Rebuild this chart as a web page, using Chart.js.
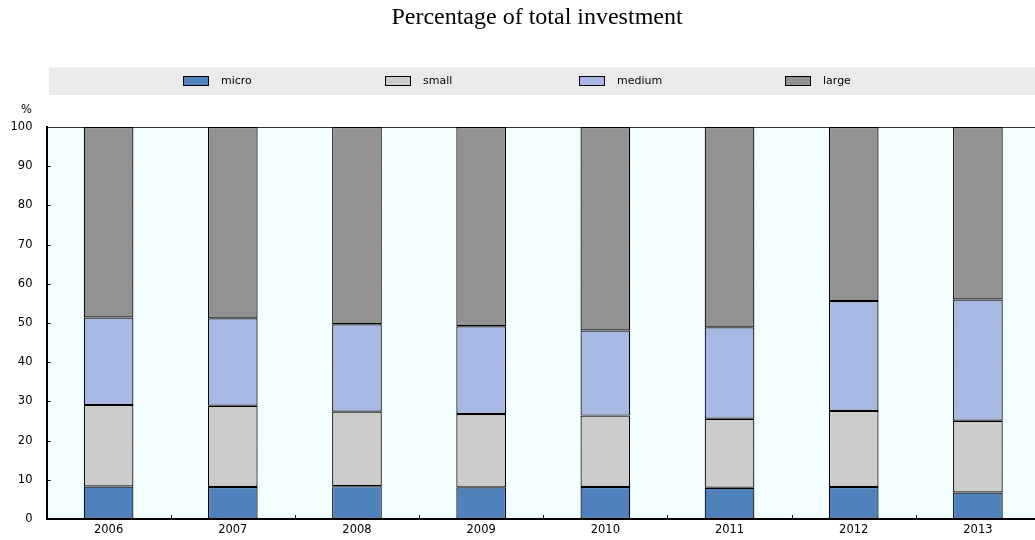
<!DOCTYPE html>
<html>
<head>
<meta charset="utf-8">
<script src="https://cdn.jsdelivr.net/npm/chart.js@4"></script>
<style>
  html, body { margin: 0; padding: 0; background: #fff; overflow: hidden; }
  #wrap { position: relative; width: 1042px; height: 540px; }
</style>
</head>
<body>
<div id="wrap"><canvas id="investChart"></canvas></div>
<script>
// years on the x axis
var years = ["2006", "2007", "2008", "2009", "2010", "2011", "2012", "2013"];

// share of total investment by firm size (%)
var micro  = [8.3, 8.2, 8.4, 8.1, 8.2, 8.0, 8.2, 6.8];
var small  = [20.8, 20.7, 19.0, 18.7, 18.2, 17.6, 19.4, 18.3];
var medium = [22.3, 22.3, 22.3, 22.4, 21.7, 23.3, 28.0, 30.9];
var large  = [48.6, 48.8, 50.3, 50.8, 51.9, 51.1, 44.4, 44.0];

var yTicks = [0, 10, 20, 30, 40, 50, 60, 70, 80, 90, 100];

var titleText = "Percentage of total investment";
var unitText = "%";

var tickFont = "DejaVu Sans";

// draws the plot background, title, legend band and the little tick marks
var decorPlugin = {
  id: "decor",
  beforeDraw: function (chart) {
    var ctx = chart.ctx;
    var a = chart.chartArea;
    ctx.save();
    ctx.fillStyle = "#F3FEFF";
    ctx.fillRect(a.left, a.top, a.right - a.left, a.bottom - a.top);
    ctx.restore();
  },
  afterDraw: function (chart) {
    var ctx = chart.ctx;
    var a = chart.chartArea;
    var xs = chart.scales.x;
    var ys = chart.scales.y;
    ctx.save();

    // title
    ctx.fillStyle = "#000";
    ctx.font = "24px 'Liberation Serif'";
    ctx.textAlign = "center";
    ctx.textBaseline = "alphabetic";
    ctx.fillText(titleText, 537, 24);

    // legend band
    ctx.fillStyle = "#EAEAEA";
    ctx.fillRect(49, 67.5, chart.width - 49, 27.5);
    var legendX = [183, 385, 579, 785];
    ctx.font = "11px '" + tickFont + "'";
    ctx.textAlign = "left";
    ctx.textBaseline = "middle";
    chart.data.datasets.forEach(function (ds, i) {
      ctx.fillStyle = ds.backgroundColor;
      ctx.fillRect(legendX[i], 76, 26, 10);
      ctx.strokeStyle = "#000";
      ctx.lineWidth = 1;
      ctx.strokeRect(legendX[i] + 0.5, 76.5, 25, 9);
      ctx.fillStyle = "#000";
      ctx.fillText(ds.label, legendX[i] + 38, 81);
    });

    // unit label
    ctx.font = "11.5px '" + tickFont + "'";
    ctx.textAlign = "right";
    ctx.fillText(unitText, 32, 110);

    // inward tick marks
    ctx.strokeStyle = "#000";
    ctx.lineWidth = 1;
    ctx.beginPath();
    yTicks.forEach(function (v) {
      if (v === 0 || v === 100) return;
      var y = Math.round(ys.getPixelForValue(v)) + 0.5;
      ctx.moveTo(a.left, y);
      ctx.lineTo(a.left + 4, y);
    });
    for (var i = 1; i < years.length; i++) {
      var x = Math.round(xs.getPixelForValue(i - 0.5)) + 0.5;
      ctx.moveTo(x, a.bottom);
      ctx.lineTo(x, a.bottom - 4);
    }
    ctx.stroke();
    ctx.restore();
  }
};

function barSet(label, values, color) {
  return {
    label: label,
    data: values,
    backgroundColor: color,
    borderColor: "#000",
    borderWidth: 1.2,
    borderSkipped: false,
    categoryPercentage: 1.0,
    barPercentage: 0.4
  };
}

var chart = new Chart(document.getElementById("investChart"), {
  type: "bar",
  data: {
    labels: years,
    datasets: [
      barSet("micro", micro, "#4F81BD"),
      barSet("small", small, "#CCCCCC"),
      barSet("medium", medium, "#A7B9E3"),
      barSet("large", large, "#929292")
    ]
  },
  options: {
    responsive: true,
    maintainAspectRatio: false,
    animation: false,
    layout: { padding: { top: 127, left: 10, right: 2, bottom: 0 } },
    plugins: {
      legend: { display: false },
      title: { display: false },
      tooltip: { enabled: false }
    },
    scales: {
      x: {
        stacked: true,
        grid: { color: "#FFFFFF", lineWidth: 1, offset: true, drawTicks: false },
        border: { color: "#000", width: 2 },
        ticks: { color: "#000", padding: 4, font: { family: tickFont, size: 11.5 } },
        afterFit: function (s) { s.height = 18.5; }
      },
      y: {
        stacked: true,
        min: 0,
        max: 100,
        grid: {
          color: function (c) { return c.tick && c.tick.value === 100 ? "#333" : "#FFFFFF"; },
          lineWidth: 1,
          drawTicks: false
        },
        border: { color: "#000", width: 2 },
        ticks: {
          color: "#000",
          padding: 14,
          stepSize: 10,
          font: { family: tickFont, size: 11.5 }
        },
        afterFit: function (s) { s.width = 36.5; }
      }
    }
  },
  plugins: [decorPlugin]
});
</script>
</body>
</html>
